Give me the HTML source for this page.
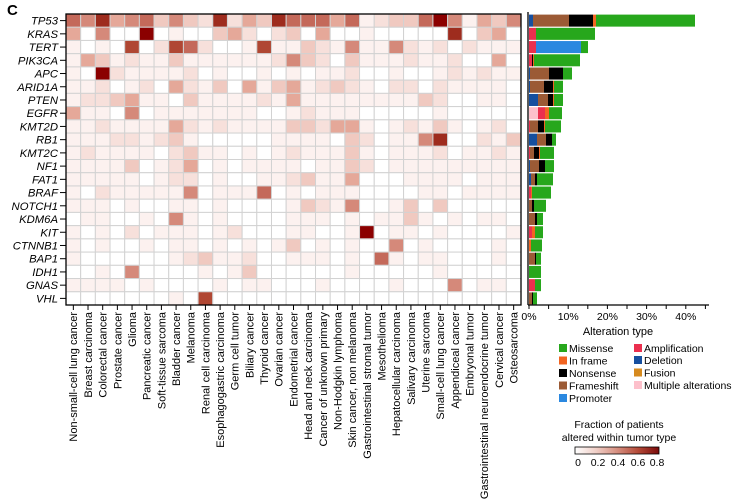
<!DOCTYPE html>
<html><head><meta charset="utf-8"><style>
html,body{margin:0;padding:0;background:#fff;}
svg{display:block;font-family:"Liberation Sans",Arial,sans-serif;}
</style></head><body>
<svg id="s" width="740" height="500" viewBox="0 0 740 500" xmlns="http://www.w3.org/2000/svg">
<text x="7" y="15" font-size="15" font-weight="bold">C</text>
</svg>
<script>
const NS="http://www.w3.org/2000/svg",S=document.getElementById('s');
function el(t,a,txt){const e=document.createElementNS(NS,t);for(const k in a)e.setAttribute(k,a[k]);if(txt!==undefined)e.textContent=txt;S.appendChild(e);return e;}
const genes=["TP53","KRAS","TERT","PIK3CA","APC","ARID1A","PTEN","EGFR","KMT2D","RB1","KMT2C","NF1","FAT1","BRAF","NOTCH1","KDM6A","KIT","CTNNB1","BAP1","IDH1","GNAS","VHL"];
const cols=["Non-small-cell lung cancer","Breast carcinoma","Colorectal cancer","Prostate cancer","Glioma","Pancreatic cancer","Soft-tissue sarcoma","Bladder cancer","Melanoma","Renal cell carcinoma","Esophagogastric carcinoma","Germ cell tumor","Biliary cancer","Thyroid cancer","Ovarian cancer","Endometrial cancer","Head and neck carcinoma","Cancer of unknown primary","Non-Hodgkin lymphoma","Skin cancer, non melanoma","Gastrointestinal stromal tumor","Mesothelioma","Hepatocellular carcinoma","Salivary carcinoma","Uterine sarcoma","Small-cell lung cancer","Appendiceal cancer","Embryonal tumor","Gastrointestinal neuroendocrine tumor","Cervical cancer","Osteosarcoma"];
const rows=[
[6,5,8,4,5,6,3,5,3,2,8,2,4,3,8,6,6,6,4,6,1,2,3,3,6,9,5,1,4,3,5],
[4,0,5,0,0,9,0,1,0,0,3,4,2,0,2,3,0,4,0,0,1,0,0,0,0,0,8,0,3,4,0],
[1,0,1,0,7,0,2,7,6,2,0,0,1,7,1,1,3,2,1,5,1,1,5,2,1,2,0,2,1,1,1],
[1,4,3,1,2,1,1,3,1,1,1,1,1,1,2,5,3,2,0,3,1,1,1,2,1,1,2,0,0,4,0],
[1,0,9,2,1,1,1,1,2,0,1,0,0,1,0,1,0,1,1,2,0,0,1,0,0,1,2,1,2,1,1],
[1,1,2,0,1,2,0,4,2,1,3,0,4,1,3,4,1,2,3,2,1,0,2,2,0,2,1,1,1,1,0],
[1,2,2,3,4,1,1,0,3,1,1,1,1,2,1,4,1,1,1,1,1,1,1,1,3,2,0,0,1,1,0],
[4,1,1,0,5,0,1,1,1,1,1,1,1,0,0,1,2,1,1,1,0,0,0,0,0,1,0,0,0,0,0],
[1,1,2,1,1,1,1,4,2,1,2,1,1,1,1,3,3,2,4,4,1,0,1,2,1,3,1,0,1,2,0],
[1,1,1,2,2,1,2,3,1,0,0,0,0,0,1,1,1,1,0,3,2,0,1,1,5,8,0,0,2,1,3],
[1,2,1,1,1,1,0,2,3,1,1,0,1,0,1,2,1,1,1,3,1,0,1,1,1,2,0,1,1,2,1],
[1,1,1,1,3,0,1,2,4,0,1,0,1,1,1,1,0,1,1,3,2,0,1,1,1,1,1,1,1,1,1],
[1,1,1,1,1,0,1,2,2,0,1,0,0,1,1,2,3,1,1,4,0,0,0,1,1,1,1,0,1,1,1],
[1,0,2,1,1,1,1,1,5,0,1,1,1,6,0,1,0,1,1,1,0,0,0,0,1,1,0,1,1,1,1],
[1,1,1,0,1,0,0,1,1,0,1,0,0,0,0,1,3,2,1,5,0,0,1,3,0,3,0,0,0,0,0],
[0,1,1,0,0,1,0,5,1,0,1,0,0,0,0,1,1,1,0,1,0,1,1,3,1,0,1,0,1,1,0],
[1,0,1,0,2,0,1,1,1,0,1,2,0,0,0,1,1,0,0,1,9,0,1,1,0,1,0,0,0,0,1],
[1,0,1,0,0,1,0,1,1,0,1,0,1,0,1,3,0,1,0,1,0,0,5,0,1,0,0,0,0,1,0],
[1,0,0,0,0,0,0,1,2,3,1,1,2,0,0,1,1,1,0,1,0,6,1,0,1,1,0,0,0,1,0],
[0,0,1,0,5,0,0,0,0,1,0,1,3,0,0,0,0,0,0,1,0,0,0,0,0,1,0,0,0,0,0],
[1,1,1,1,0,1,0,0,0,0,1,0,1,1,0,0,0,1,0,0,0,0,1,0,0,0,5,0,1,1,0],
[0,0,0,0,0,0,0,1,0,7,0,0,0,0,0,0,0,0,0,0,0,0,0,0,0,0,0,0,0,0,0]];
const C=["#ffffff","#fcf1ef","#f7e0db","#f0c9c0","#e5a899","#d5897a","#c4695a","#b04733","#9e2c1e","#8b0000"];
const x0=66,cw=455/31,y0=14,rh=291/22;
rows.forEach((r,i)=>r.forEach((v,j)=>el('rect',{x:x0+j*cw,y:y0+i*rh,width:cw,height:rh,fill:C[v],stroke:"#d2d2d2","stroke-width":1})));
el('rect',{x:x0,y:y0,width:455,height:291,fill:"none",stroke:"#000","stroke-width":1.3});
genes.forEach((g,i)=>{const y=y0+(i+.5)*rh;el('line',{x1:60,x2:66,y1:y,y2:y,stroke:"#000"});
el('text',{x:58,y:y+4,"font-size":11.3,"font-style":"italic","text-anchor":"end"},g);});
cols.forEach((c,j)=>{const x=x0+(j+.5)*cw;el('line',{x1:x,x2:x,y1:305,y2:310,stroke:"#000"});
el('text',{transform:`translate(${x+3.9},312) rotate(-90)`,"font-size":11,"text-anchor":"end"},c);});
el('line',{x1:528,x2:528,y1:12,y2:305,stroke:"#000","stroke-width":1.3});
const col={g:"#27a71c",o:"#f26522",k:"#000",b:"#9b5a35",p:"#2a88e0",r:"#eb2f4e",d:"#164f9f",f:"#d68a1e",m:"#fdc0cb"};
const B=[
[["d",529,533],["b",533,569],["k",569,593],["o",593,596],["g",596,695]],
[["r",529,536],["g",536,595]],
[["r",529,536],["p",536,581],["g",581,588]],
[["r",529,532],["k",532,533],["o",533,534],["g",534,580]],
[["d",529,530],["b",530,549],["k",549,563],["g",563,572]],
[["d",529,530],["b",530,544],["k",544,553],["o",553,554],["g",554,563]],
[["d",529,538],["b",538,548],["k",548,553],["o",553,554],["g",554,563]],
[["m",529,538],["r",538,545],["o",545,549],["g",549,562]],
[["r",529,530],["b",530,538],["k",538,544],["o",544,545],["g",545,561]],
[["d",529,537],["b",537,546],["k",546,552],["g",552,556]],
[["r",529,530],["b",530,534],["k",534,539],["o",539,540],["g",540,554]],
[["d",529,530],["b",530,539],["k",539,545],["g",545,554]],
[["d",529,531],["b",531,535],["k",535,537],["g",537,553]],
[["r",529,531],["o",531,532],["g",532,551]],
[["b",529,532],["k",532,534],["g",534,546]],
[["b",529,535],["k",535,537],["g",537,543]],
[["r",529,532],["o",532,535],["g",535,543]],
[["o",529,531],["g",531,542]],
[["b",529,535],["k",535,536],["g",536,541]],
[["g",529,541]],
[["r",529,535],["g",535,541]],
[["b",529,532],["k",532,533],["g",533,537]]];
B.forEach((segs,i)=>segs.forEach(s=>el('rect',{x:s[1],y:y0+i*rh+0.6,width:s[2]-s[1],height:rh-1.2,fill:col[s[0]]})));
el('line',{x1:528,x2:709,y1:305,y2:305,stroke:"#000","stroke-width":1.2});
for(let p=0;p<=45;p+=5){const x=529+p*3.92;el('line',{x1:x,x2:x,y1:305,y2:309,stroke:"#000"});
if(p%10==0)el('text',{x:x,y:320,"font-size":10.5,"text-anchor":"middle"},p+"%");}
el('text',{x:618,y:335,"font-size":11,"text-anchor":"middle"},"Alteration type");
const L=[["g","Missense",559,344],["o","In frame",559,356.5],["k","Nonsense",559,369],["b","Frameshift",559,381.5],["p","Promoter",559,394],
["r","Amplification",634,344],["d","Deletion",634,356],["f","Fusion",634,368.5],["m","Multiple alterations",634,381]];
L.forEach(l=>{el('rect',{x:l[2],y:l[3],width:8,height:8,fill:col[l[0]]});el('text',{x:l[2]+10,y:l[3]+8,"font-size":10.5},l[1]);});
el('text',{x:619,y:428,"font-size":10.5,"text-anchor":"middle"},"Fraction of patients");
el('text',{x:619,y:441,"font-size":10.5,"text-anchor":"middle"},"altered within tumor type");
const g=el('linearGradient',{id:"cb",x1:0,x2:1,y1:0,y2:0});
["#ffffff","#f0cfc7","#d68f80","#b44a38","#7a0a0a"].forEach((c,i)=>{const st=document.createElementNS(NS,'stop');st.setAttribute('offset',i/4);st.setAttribute('stop-color',c);g.appendChild(st);});
el('rect',{x:575,y:447,width:84,height:7,fill:"url(#cb)",stroke:"#000","stroke-width":0.8});
[["0",578],["0.2",598],["0.4",618],["0.6",638],["0.8",657]].forEach(t=>el('text',{x:t[1],y:466,"font-size":10.5,"text-anchor":"middle"},t[0]));
</script>
</body></html>
